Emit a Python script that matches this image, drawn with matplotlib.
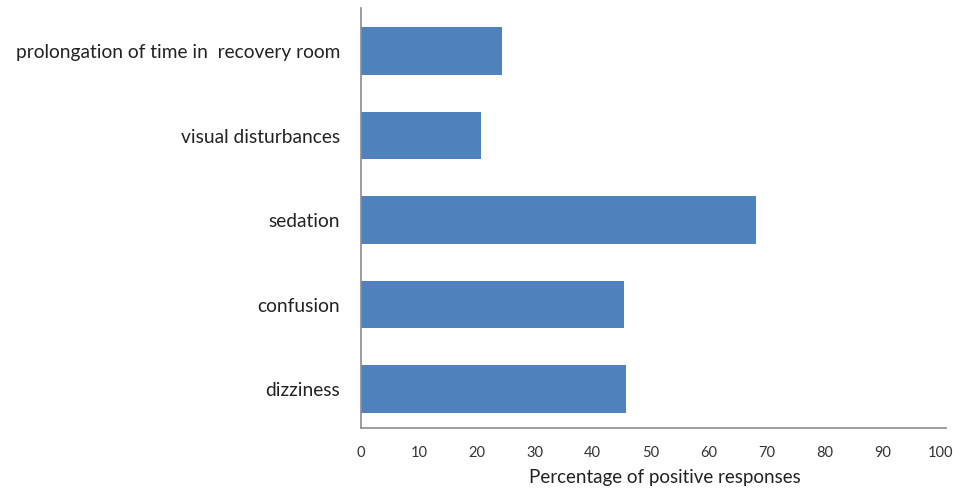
import matplotlib
matplotlib.use("Agg")
import matplotlib.pyplot as plt

categories = ["dizziness", "confusion", "sedation", "visual disturbances",
              "prolongation of time in  recovery room"]
values = [45.7, 45.4, 68.2, 20.7, 24.4]
xticks = [0, 10, 20, 30, 40, 50, 60, 70, 80, 90, 100]

plt.rcParams['font.family'] = ['Lato', 'DejaVu Sans']

fig = plt.figure(figsize=(9.54, 4.92), dpi=100)
ax = fig.add_axes([0.3784, 0.1301, 0.6132, 0.8537])

ypos = list(range(len(categories)))
ax.barh(ypos, values, height=0.56, color="#4F81BD")
ax.set_ylim(-0.46, 4.51)
ax.set_xlim(0, 101)
ax.set_xticks(xticks)
ax.set_xticklabels([str(t) for t in xticks], fontsize=10.5, color="#333333")
ax.set_yticks(ypos)
ax.set_yticklabels(categories, fontsize=13.8, color="#222222")
ax.tick_params(axis='x', length=0, pad=13)
ax.tick_params(axis='y', length=0, pad=15)
for s in ['top', 'right']:
    ax.spines[s].set_visible(False)
for s in ['left', 'bottom']:
    ax.spines[s].set_color("#8c8c8c")
    ax.spines[s].set_linewidth(1.2)
ax.set_xlabel("Percentage of positive responses", fontsize=13.5, color="#222222")
ax.xaxis.set_label_coords(0.52, -0.097)

fig.savefig("out.png", dpi=100)
